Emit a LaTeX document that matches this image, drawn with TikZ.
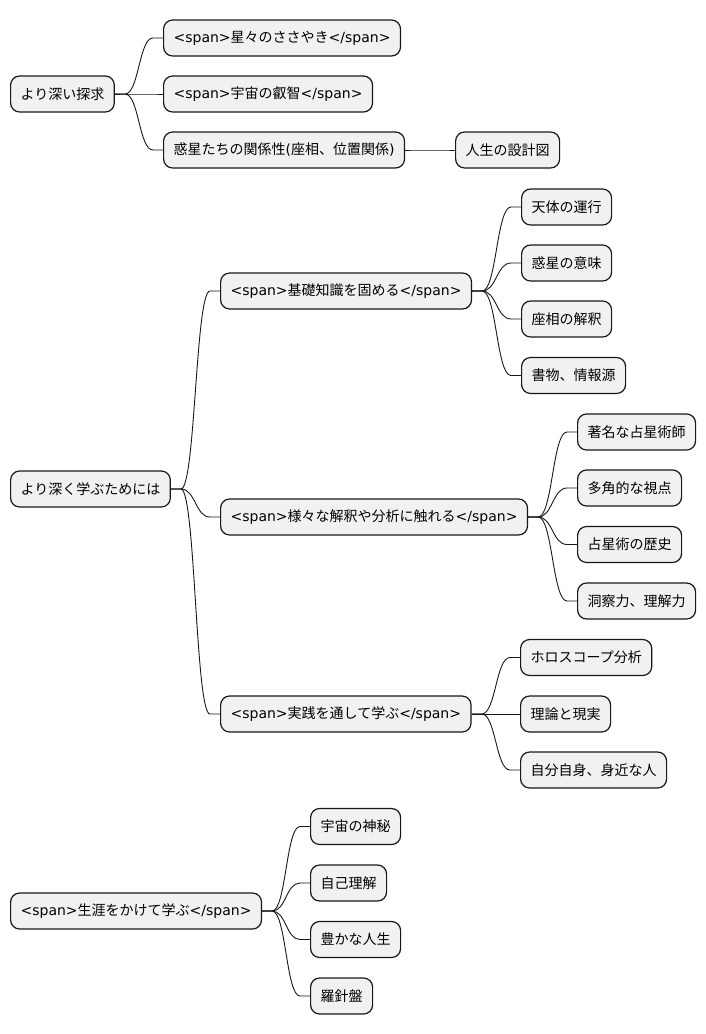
\documentclass[tikz,border=0pt]{standalone}
\usepackage{fontspec}
\setmainfont{Noto Sans CJK JP}
\newfontfamily\lat{DejaVu Sans}
\usetikzlibrary{calc}
\definecolor{boxfill}{HTML}{F1F1F1}
\definecolor{ink}{HTML}{181818}
\newcommand\spanA{{\lat <span>}}
\newcommand\spanB{{\lat </span>}}
\newcommand\linkto[2]{%
  \path (#1.east) ++(10,0) coordinate (la);
  \path (#2.west) ++(-10,0) coordinate (lb);
  \path ($(la)!0.5!(lb)$) coordinate (lm);
  \draw[conn] (#1.east) -- (la) .. controls (lm |- la) and (lm |- lb) .. (lb) -- (#2.west);}
\begin{document}
\begin{tikzpicture}[x=1pt,y=-1pt,
  box/.style={draw=ink, fill=boxfill, line width=1.2pt, rounded corners=9pt,
    minimum height=36pt, inner xsep=10pt, inner ysep=0pt, anchor=west,
    font=\fontsize{14}{16}\selectfont, text=black},
  conn/.style={draw=ink, line width=0.9pt}]
\useasboundingbox (0,0) rectangle (705,1034);
% tree 1
\node[box] (r1) at (10,94) {より深い探求};
\node[box] (a1) at (163,38) {\spanA 星々のささやき\spanB};
\node[box] (a2) at (163,94) {\spanA 宇宙の叡智\spanB};
\node[box] (a3) at (163,150) {惑星たちの関係性{\lat(}座相、位置関係{\lat)}};
\node[box] (a31) at (455,150) {人生の設計図};
\linkto{r1}{a1}\linkto{r1}{a2}\linkto{r1}{a3}\linkto{a3}{a31}
% tree 2
\node[box] (r2) at (10,489) {より深く学ぶためには};
\node[box] (b1) at (220,291) {\spanA 基礎知識を固める\spanB};
\node[box] (b11) at (521,207) {天体の運行};
\node[box] (b12) at (521,263) {惑星の意味};
\node[box] (b13) at (521,319) {座相の解釈};
\node[box] (b14) at (521,375.5) {書物、情報源};
\node[box] (b2) at (220,517) {\spanA 様々な解釈や分析に触れる\spanB};
\node[box] (b21) at (577,432) {著名な占星術師};
\node[box] (b22) at (577,488) {多角的な視点};
\node[box] (b23) at (577,544.5) {占星術の歴史};
\node[box] (b24) at (577,601) {洞察力、理解力};
\node[box] (b3) at (220,714) {\spanA 実践を通して学ぶ\spanB};
\node[box] (b31) at (520,657.5) {ホロスコープ分析};
\node[box] (b32) at (520,714) {理論と現実};
\node[box] (b33) at (520,770) {自分自身、身近な人};
\linkto{r2}{b1}\linkto{r2}{b2}\linkto{r2}{b3}
\linkto{b1}{b11}\linkto{b1}{b12}\linkto{b1}{b13}\linkto{b1}{b14}
\linkto{b2}{b21}\linkto{b2}{b22}\linkto{b2}{b23}\linkto{b2}{b24}
\linkto{b3}{b31}\linkto{b3}{b32}\linkto{b3}{b33}
% tree 3
\node[box] (r3) at (10,911) {\spanA 生涯をかけて学ぶ\spanB};
\node[box] (c1) at (310,826.5) {宇宙の神秘};
\node[box] (c2) at (310,883) {自己理解};
\node[box] (c3) at (310,939.5) {豊かな人生};
\node[box] (c4) at (310,996) {羅針盤};
\linkto{r3}{c1}\linkto{r3}{c2}\linkto{r3}{c3}\linkto{r3}{c4}
\end{tikzpicture}
\end{document}
